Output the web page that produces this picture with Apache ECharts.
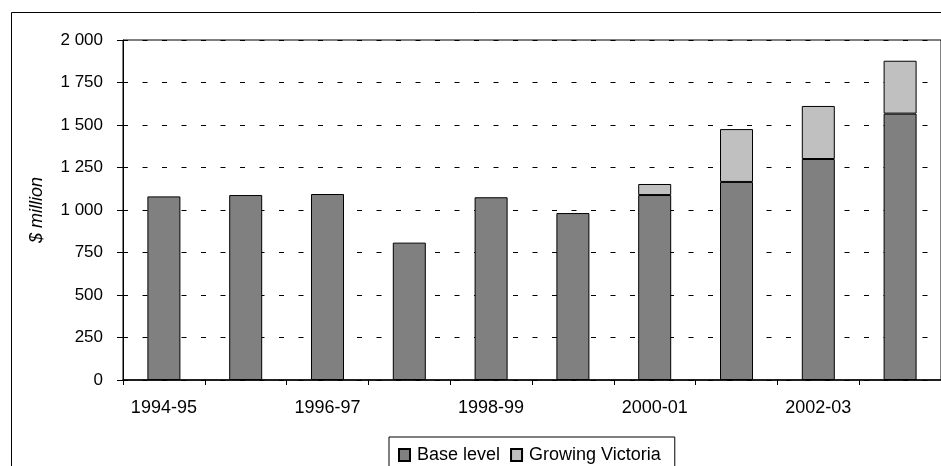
<!DOCTYPE html>
<html>
<head>
<meta charset="utf-8">
<script src="https://cdn.jsdelivr.net/npm/echarts@6/dist/echarts.min.js"></script>
<style>
  html, body { margin: 0; padding: 0; background: #fff; }
  #main { width: 941px; height: 466px; }
</style>
</head>
<body>
<div id="main"></div>
<script>
var years = ['1994-95', '1995-96', '1996-97', '1997-98', '1998-99',
             '1999-00', '2000-01', '2001-02', '2002-03', '2003-04'];
var baseLevel = [1080, 1088, 1094, 808, 1075, 982, 1088, 1165, 1300, 1567];
var growingVictoria = [null, null, null, null, null, null, 65, 311, 312, 311];

var chart = echarts.init(document.getElementById('main'));

var font = 'Liberation Sans, Arial, sans-serif';

function thousands(v) {
  return String(v).replace(/\B(?=(\d{3})+(?!\d))/g, ' ');
}

var option = {
  animation: false,
  backgroundColor: '#fff',
  textStyle: { fontFamily: font, color: '#000' },
  graphic: [{
    type: 'rect',
    shape: { x: 11.5, y: 12.5, width: 1000, height: 1000 },
    style: { fill: 'none', stroke: '#000', lineWidth: 1 },
    silent: true,
    z: 100
  }],
  grid: {
    left: 123,
    top: 40,
    width: 820,
    height: 340,
    show: true,
    borderColor: '#000',
    borderWidth: 1
  },
  legend: {
    left: 389,
    top: 437,
    padding: [9, 14, 20, 9],
    borderColor: '#000',
    borderWidth: 1,
    icon: 'rect',
    itemWidth: 11,
    itemHeight: 12,
    itemGap: 10,
    textStyle: { fontFamily: font, fontSize: 18, color: '#000', padding: [0, 0, 0, 2] },
    data: ['Base level', 'Growing Victoria']
  },
  xAxis: {
    type: 'category',
    data: years,
    axisLine: { lineStyle: { color: '#000', width: 1.5 } },
    axisTick: { show: true, interval: 0, length: 5, lineStyle: { color: '#000' } },
    axisLabel: { interval: 1, margin: 19, fontSize: 18, color: '#000', fontFamily: font },
    splitLine: { show: false }
  },
  yAxis: {
    type: 'value',
    min: 0,
    max: 2000,
    interval: 250,
    name: '$ million',
    nameLocation: 'middle',
    nameGap: 77,
    nameTextStyle: { fontSize: 18, fontStyle: 'italic', color: '#000', fontFamily: font },
    axisLine: { show: true, lineStyle: { color: '#000' } },
    axisTick: { show: true, length: 6, lineStyle: { color: '#000' } },
    axisLabel: { margin: 20, fontSize: 17, color: '#000', fontFamily: font, formatter: thousands },
    splitLine: { show: true, lineStyle: { color: '#000', type: [5, 14.5], width: 1 } }
  },
  series: [{
    name: 'Base level',
    type: 'bar',
    stack: 'total',
    barWidth: 33,
    data: baseLevel,
    itemStyle: { color: '#808080', borderColor: '#000', borderWidth: 1 }
  }, {
    name: 'Growing Victoria',
    type: 'bar',
    stack: 'total',
    barWidth: 33,
    data: growingVictoria,
    itemStyle: { color: '#c0c0c0', borderColor: '#000', borderWidth: 1 }
  }]
};

chart.setOption(option);
</script>
</body>
</html>
